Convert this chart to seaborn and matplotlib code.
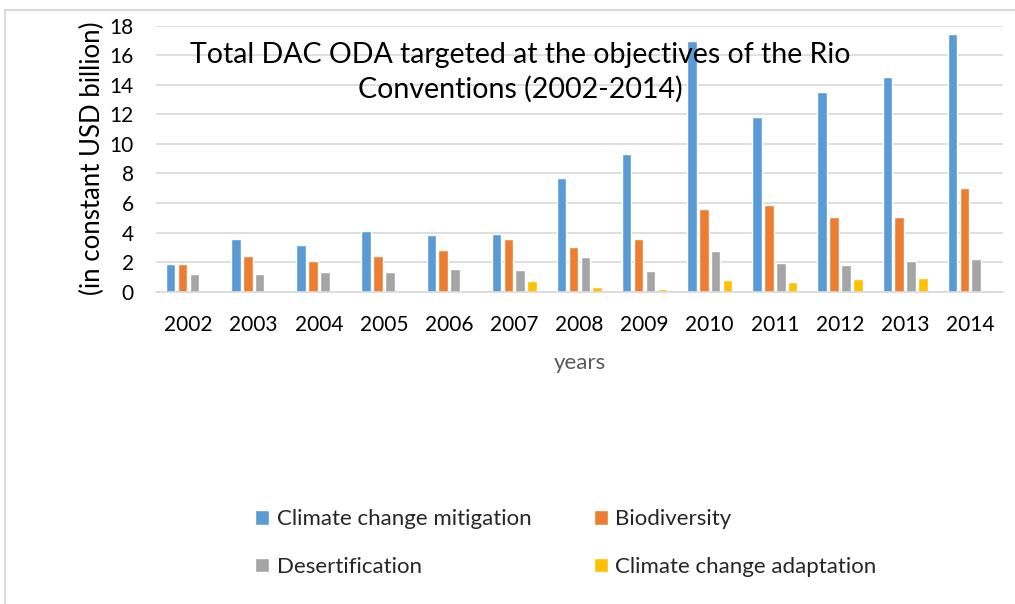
"""Total DAC ODA targeted at the Rio Conventions objectives, 2002-2014."""

import matplotlib.pyplot as plt
import pandas as pd
import seaborn as sns
from matplotlib.patches import Patch, Rectangle

years = [str(y) for y in range(2002, 2015)]
series = ["Climate change mitigation", "Biodiversity", "Desertification",
          "Climate change adaptation"]
mitigation = [1.87, 3.57, 3.18, 4.09, 3.86, 3.88, 7.72, 9.32, 16.93, 11.8, 13.52, 14.54, 17.45]
biodiversity = [1.87, 2.39, 2.10, 2.42, 2.80, 3.59, 3.05, 3.54, 5.58, 5.87, 5.08, 5.03, 7.00]
desertification = [1.20, 1.20, 1.31, 1.33, 1.56, 1.47, 2.33, 1.40, 2.73, 1.94, 1.78, 2.10, 2.21]
adaptation = [0, 0, 0, 0, 0, 0.72, 0.34, 0.20, 0.79, 0.68, 0.84, 0.90, 0.11]
colors = ["#5B9BD5", "#ED7D31", "#A5A5A5", "#FFC000"]

df = pd.DataFrame({
    "year": years * 4,
    "series": sum([[s] * len(years) for s in series], []),
    "value": mitigation + biodiversity + desertification + adaptation,
})

sns.set_theme(style="white")
plt.rcParams["font.family"] = ["Lato", "DejaVu Sans"]

fig = plt.figure(figsize=(10.15, 6.04), dpi=100)
ax = fig.add_axes([0.1537, 0.517, 0.8343, 0.4405])

sns.barplot(data=df, x="year", y="value", hue="series", hue_order=series,
            palette=colors, width=0.73, gap=0.2, saturation=1,
            legend=False, ax=ax)

ax.set_ylim(0, 18)
ax.set_yticks(range(0, 19, 2))
ax.set_xlim(-0.5, len(years) - 0.5)
ax.yaxis.grid(True, color="#D9D9D9", linewidth=1.2)
ax.set_axisbelow(True)
for side in ["top", "right", "left"]:
    ax.spines[side].set_visible(False)
ax.spines["bottom"].set_color("#D9D9D9")
ax.spines["bottom"].set_linewidth(1.2)
ax.tick_params(axis="both", length=0, labelsize=15, colors="#000000")
ax.tick_params(axis="y", pad=16)
ax.tick_params(axis="x", pad=17)

ax.set_xlabel("years", fontsize=16, color="#595959", labelpad=13)
ax.set_ylabel("(in constant USD billion)", fontsize=18.5, color="#000000", labelpad=3)

ax.text(0.43, 0.825, "Total DAC ODA targeted at the objectives of the Rio\nConventions (2002-2014)",
        transform=ax.transAxes, ha="center", va="center", fontsize=20.5,
        linespacing=1.36, color="#000000")

# legend: matplotlib fills columns first
order = [0, 2, 1, 3]
handles = [Patch(facecolor=colors[i], label=series[i]) for i in order]
fig.legend(handles=handles, loc="upper left", bbox_to_anchor=(0.232, 0.19),
           ncol=2, frameon=False, fontsize=16, handlelength=0.62, handleheight=0.62,
           handletextpad=0.35, labelspacing=1.23, columnspacing=2.8)

# light chart-area border
fig.patches.append(Rectangle((0.005, -0.01), 1.02, 0.994, transform=fig.transFigure,
                             fill=False, edgecolor="#D9D9D9", linewidth=1.5))

fig.savefig("out.png", dpi=100)
